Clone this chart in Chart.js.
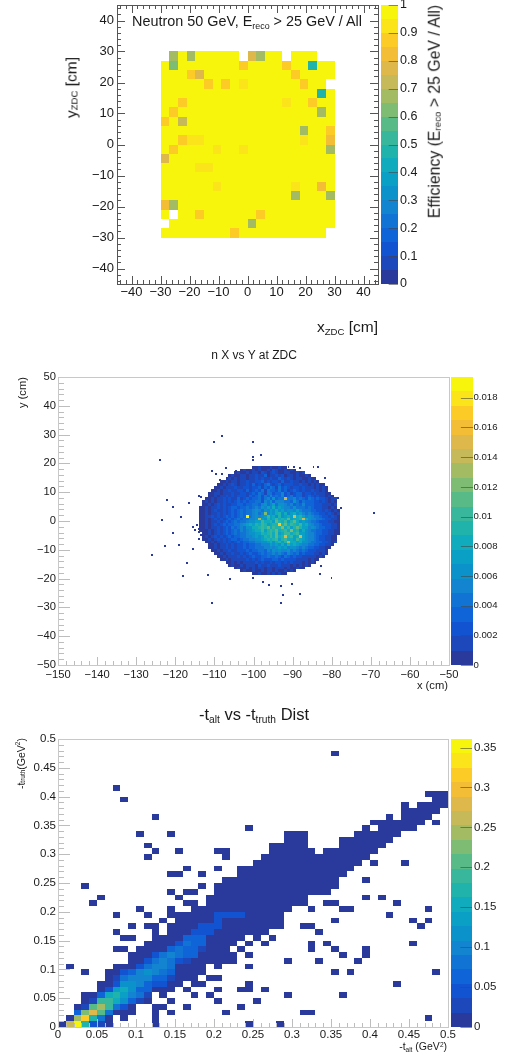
<!DOCTYPE html>
<html>
<head>
<meta charset="utf-8">
<script src="https://cdn.jsdelivr.net/npm/chart.js@4"></script>
<style>
  html, body { margin: 0; background: #fff; }
  body { position: relative; width: 512px; height: 1061px; overflow: hidden; font-family: "Liberation Sans", sans-serif; color: #1a1a1a; }
  canvas { position: absolute; left: 0; }
  .txt { position: absolute; white-space: nowrap; line-height: 1; }
  .vert { writing-mode: vertical-rl; transform: rotate(180deg); }
  sub, sup { font-size: 62%; line-height: 0; }
  sub { vertical-align: -0.3em; }
  sup { vertical-align: 0.5em; }
</style>
</head>
<body>
<canvas id="effChart" width="512" height="340" style="top:0"></canvas>
<canvas id="posChart" width="512" height="360" style="top:340px"></canvas>
<canvas id="altChart" width="512" height="361" style="top:700px"></canvas>

<div class="txt" style="left:132px;top:14px;font-size:14.4px">Neutron 50 GeV, E<sub>reco</sub> &gt; 25 GeV / All</div>
<div class="txt vert" style="left:64px;top:57px;font-size:15.5px">y<sub>ZDC</sub> [cm]</div>
<div class="txt" style="right:134px;top:319px;font-size:15.5px">x<sub>ZDC</sub> [cm]</div>
<div class="txt vert" style="left:427px;top:5px;font-size:15.8px">Efficiency (E<sub>reco</sub> &gt; 25 GeV / All)</div>

<div class="txt" style="left:0;width:508px;text-align:center;top:349px;font-size:12px">n X vs Y at ZDC</div>
<div class="txt vert" style="left:17px;top:377px;font-size:11.2px">y (cm)</div>
<div class="txt" style="right:64px;top:680px;font-size:11.2px">x (cm)</div>

<div class="txt" style="left:0;width:508px;text-align:center;top:706px;font-size:16.5px">-t<sub>alt</sub> vs -t<sub>truth</sub> Dist</div>
<div class="txt vert" style="left:16px;top:738px;font-size:10.5px">-t<sub>truth</sub>(GeV<sup>2</sup>)</div>
<div class="txt" style="right:65px;top:1041px;font-size:10.5px">-t<sub>alt</sub> (GeV<sup>2</sup>)</div>

<script>
Chart.defaults.font.family = '"Liberation Sans", sans-serif';
Chart.defaults.color = '#1a1a1a';

// 20 contour colours (bottom to top)
const PALETTE = ['#2a3a9c','#1d48bb','#1253d2','#0f64d8','#1174d4','#1384cf','#0c92ca','#0aa0c6','#10abbc','#20b3ac',
                 '#38b79c','#58ba86','#7dbc72','#a3bc64','#c6b95a','#dfb84c','#f3bd36','#fdcb25','#fbe41a','#f8f50c'];

// Cell strings: one char per bin, base-20 contour level (0-j), '.' or ' ' = empty.

// ---- Efficiency map, 3 cm bins, first row is y 27..30 ----
const effRows = [
  '.djdjjjjj.fdjj.jjj..',
  'jcjjjjjjjhjjjjhjj9jj',
  'jjjhfjjjjjjjjjjhjjjj',
  'jjjjjhjhjijjjjjjhjj.',
  'jjjjjjjjjjjjjjjjjj9j',
  'jjhjjjjjjjjjjjijjhjj',
  'jhjjjjjjjjjjjjjjjjdj',
  'hjejjjjjjjjjjjjjjjjj',
  'jjjjjjjjjjjjjjjjdjjh',
  'jjhiijjjjjjjjjjjijjg',
  'jhjjjjijjijjjjjjjjjd',
  'fjjjjjjjjjjjjjjjjjjj',
  'jjjjiijjjjjjjjjjjjjj',
  'jjjjjjjjjjjjjjjjjjjj',
  'jjjjjjijjjjjjjjijjgj',
  'jjjjjjjjjjjjjjjdjjjd',
  'gdjjjjjjjjjjjjjjjjjj',
  'j.jjhjjjjjjhjjjjjjjj',
  '.jjjjjjjjjdjjjjjjjjj',
  'jjjjjjjjhjjjjjjjjjj.'
];
const effTicks = [-40, -30, -20, -10, 0, 10, 20, 30, 40];

// ---- Neutron position at ZDC, core of the spot, then the stray hits ----
const posRows = [
  '                  001000100100',
  '              0100101001021001010',
  '            010010110210121001100101',
  '          0100110112113011212011010010',
  '         0101011011212112113212101100100',
  '       0010110112112231212213112110101010',
  '      0010121011213121342123122211211010100',
  '     001011121122122313243142321221211101010',
  '    0010112112213123241433242312321211211010',
  '   001101112112212324314423352312331221211100',
  '   0010112121222132342435343523423312321211010',
  '  001011212113123233424536344e44534324323221011',
  ' 0101011212123232334425463555443642433322121010',
  ' 0010121211223323344356457466545343533322211101',
  '00101121212332334345465758576554644434322211010',
  '001012112123234344565465768675665754443322121010',
  '0010112121232343445645c5768968578675454332212101',
  '0011212123232343j456567a78696787f897565443221210',
  '00101212123234344556d76978a898b7889e865544322110',
  '001011212323434456677a8897b98a79b867654432221100',
  '001012123233445678798a97899h9b8a98a7865443222110',
  '001011212324345466889a9b8a99c8a79b97756543322110',
  '000101212323435456788a79a9b89a8c8968654433221100',
  ' 00101212323434456677989a8b78aa89a77655433221100',
  ' 01012121232334455676798a8b89f9a78e765543221100',
  ' 0010121212332344556678989a79a887a8765543221100',
  '  0010112121232334455667868979d8878665443322101',
  '   0010112121223233445557676869787655443322110',
  '   001011212122323344455656767566545433221100',
  '    0010112112223233443546565564543432221110',
  '     001011211212322343445454354342322211010',
  '      0010111212123223343343243232211111010',
  '       0010111112121232223323222211110100',
  '         0010101111212112122121211101010',
  '          0100101110211211121110101010',
  '            010010101101101110100100',
  '              0100100101101001010',
  '                  001001010100'
];
const strayX = [-108.3,-110.3,-100.3,-100.3,-98.3,-100.3,-124.2,-110.8,-109.8,-108.3,-107.3,-104.8,-108.8,-114.1,-113.7,-122.3,-116.8,-120.8,-113.6,-118.7,-123.7,-114.7,-115.7,-115.2,-114.2,-114.2,-120.8,-113.7,-114.2,-119.2,-122.8,-115.7,-126.2,-117.3,-118.3,-111.8,-106.3,-100.3,-97.8,-96.3,-93.3,-90.3,-92.8,-88.3,-110.8,-93.3,-83.3,-80.3,-82.9,-69.4,-81.9,-83.8,-84.9,-88.4,-89.9,-91.3,-92.8,-97.3,-77.9,-78.7];
const strayY = [29.75,27.8,27.8,22.7,23.3,21.6,21.6,17.7,16.8,16.8,18.8,17.7,14.7,9.0,8.7,7.6,6.7,5.2,3.7,1.7,0.7,-1.0,-1.7,-2.8,-2.4,-3.5,-3.8,-4.5,-5.9,-7.9,-8.3,-9.4,-11.5,-14.4,-18.9,-18.4,-19.9,-19.3,-20.8,-21.9,-22.3,-21.4,-25.3,-24.9,-28,-28,-17.9,-19.3,-15.4,3.1,15.3,19.2,19.2,18.8,19.2,19.2,19.2,19.2,4.7,8.2];

// ---- -t alt vs truth, 0.01 bins. Runs of lowest-level bins per row (first,last,...), row 0 is top ----
const altRuns = [
  [], [], [35,35], [], [], [], [], [],
  [7,7],
  [47,49],
  [8,8,48,49],
  [44,44,46,49],
  [44,48],
  [12,12,42,42,44,47],
  [40,46,48,48],
  [24,24,39,39,41,45],
  [10,10,14,14,29,31,38,43],
  [29,31,36,42],
  [11,11,27,31,36,41],
  [12,12,15,15,20,21,27,32,34,40],
  [11,11,21,21,26,39],
  [25,38,40,40,44,44],
  [16,16,20,20,23,37],
  [14,15,18,18,23,36],
  [21,35,39,39],
  [3,3,18,18,20,35],
  [14,14,16,17,20,34],
  [5,5,15,15,19,31,39,39,41,41],
  [4,4,16,17,19,31,34,35,43,43],
  [10,10,14,14,17,29,32,32,36,37,47,47],
  [7,7,11,11,14,28,42,42],
  [13,13,15,28,35,35,45,45,47,47],
  [9,9,11,12,14,28,31,32,46,46],
  [7,7,12,12,14,26,33,33],
  [8,9,12,23,25,25,27,27],
  [11,22,24,24,26,26,32,32,34,34,45,45],
  [7,8,10,21,23,23,32,32,35,35,39,39],
  [9,22,24,24,36,36,39,39],
  [9,22,29,29,33,33,38,38],
  [1,1,7,18,20,20,24,24],
  [3,3,6,18,35,35,37,37,48,48],
  [6,17,19,20],
  [5,15,17,18,24,24,43,43],
  [5,14,16,16,20,20,23,24,26,26],
  [3,11,13,13,17,17,19,19,29,29,36,36],
  [3,11,14,14,20,20,25,25],
  [2,9,12,13,16,16,23,23],
  [2,9,12,12,14,14,21,21,31,32],
  [1,6,8,8,12,12,47,47],
  [0,6,12,12,24,24,28,28]
];
// brighter ridge on top of those runs: [row, first bin, levels]
const altRidge = [
  [30,20,'2222'], [31,20,'2'], [32,18,'222'], [33,17,'222'], [34,16,'333'],
  [35,15,'2433'], [36,14,'34331'], [37,12,'245433'], [38,11,'245421'], [39,10,'24554'],
  [40,8,'2356543'], [41,7,'14555331'], [42,7,'2665322'], [43,6,'278633'], [44,5,'3897541'],
  [45,4,'1aa8631'], [46,3,'1bda42'], [47,2,'3cfb4'], [48,2,'dh94'], [49,1,'ej921']
];

// ---------- Utilities ----------
function rowsToCells(rows, x0, yTop, binW, binH, zMax) {
  const cells = [];
  rows.forEach((row, r) => {
    [...row].forEach((ch, c) => {
      if (ch === '.' || ch === ' ') return;
      cells.push({ x: x0 + c * binW, y: yTop - r * binH, v: (parseInt(ch, 20) + 0.5) / 20 * zMax });
    });
  });
  return cells;
}

function altRowStrings() {
  const rows = altRuns.map(runs => {
    const row = new Array(50).fill('.');
    for (let i = 0; i < runs.length; i += 2) {
      for (let c = runs[i]; c <= runs[i + 1]; c++) row[c] = '0';
    }
    return row;
  });
  altRidge.forEach(([r, first, levels]) => {
    [...levels].forEach((ch, i) => { rows[r][first + i] = ch; });
  });
  return rows.map(r => r.join(''));
}

const signed = v => String(v).replace('-', '\u2212');

// y of a cell is its upper edge, x its left edge
const heatPlugin = {
  id: 'heat',
  beforeDatasetsDraw(chart) {
    const { ctx, scales: { x, y, z } } = chart;
    const o = chart.options.plugins.heat;
    chart.data.datasets.forEach(ds => {
      ds.data.forEach(p => {
        const left = Math.round(x.getPixelForValue(p.x));
        const right = Math.round(x.getPixelForValue(p.x + ds.binW));
        const top = Math.round(y.getPixelForValue(p.y));
        const bottom = Math.round(y.getPixelForValue(p.y - ds.binH));
        ctx.fillStyle = PALETTE[Math.min(19, Math.floor(p.v / o.zMax * 20))];
        ctx.fillRect(left, top, right - left, bottom - top);
      });
    });
    // palette bar
    PALETTE.forEach((col, i) => {
      const top = Math.round(z.getPixelForValue((i + 1) / 20 * o.zMax));
      const bottom = Math.round(z.getPixelForValue(i / 20 * o.zMax));
      ctx.fillStyle = col;
      ctx.fillRect(o.barLeft, top, o.barWidth, bottom - top);
    });
  },
  afterDatasetsDraw(chart) {
    const { ctx, chartArea: a, scales: { x, y, z } } = chart;
    const o = chart.options.plugins.heat;
    ctx.save();
    ctx.lineWidth = 1;

    const each = (scale, minor, major, fn) => {
      for (let i = Math.ceil(scale.min / minor - 1e-6); i * minor <= scale.max + 1e-9; i++) {
        const v = i * minor;
        const isMajor = Math.abs(v / major - Math.round(v / major)) < 1e-6;
        fn(Math.round(scale.getPixelForValue(v)) + 0.5, isMajor);
      }
    };
    ctx.strokeStyle = o.tickColor;
    ctx.beginPath();
    each(x, o.xMinor, o.xMajor, (px, big) => {
      const len = big ? o.xLen : o.xLen / 2;
      ctx.moveTo(px, a.bottom); ctx.lineTo(px, a.bottom - len);
      if (o.mirror) { ctx.moveTo(px, a.top); ctx.lineTo(px, a.top + len); }
    });
    each(y, o.yMinor, o.yMajor, (px, big) => {
      const len = big ? o.yLen : o.yLen / 2;
      ctx.moveTo(a.left, px); ctx.lineTo(a.left + len, px);
      if (o.mirror) { ctx.moveTo(a.right, px); ctx.lineTo(a.right - len, px); }
    });
    ctx.stroke();

    ctx.strokeStyle = o.frameColor;
    ctx.strokeRect(a.left + 0.5, a.top + 0.5, a.right - a.left, a.bottom - a.top);

    // palette ticks
    ctx.strokeStyle = 'rgba(70,70,70,0.6)';
    ctx.beginPath();
    z.ticks.forEach(t => {
      const py = Math.round(z.getPixelForValue(t.value)) + 0.5;
      ctx.moveTo(o.barLeft + o.barWidth, py);
      ctx.lineTo(o.barLeft + o.barWidth - o.barWidth * 0.55, py);
    });
    ctx.stroke();
    ctx.restore();
  }
};

// no padding for first/last labels, the frame sizes below are exact
function fixedSize(prop, size) {
  return s => {
    s[prop] = size;
    s.paddingTop = s.paddingBottom = s.paddingLeft = s.paddingRight = 0;
  };
}

function renderHeat(id, o) {
  const useTicks = s => {
    if (o.tickValues) s.ticks = o.tickValues.map(value => ({ value }));
  };
  return new Chart(document.getElementById(id), {
    type: 'scatter',
    data: { datasets: o.datasets },
    options: {
      responsive: false,
      animation: false,
      events: [],
      elements: { point: { radius: 0 } },
      layout: { padding: { top: o.top, bottom: o.bottom, left: 0, right: 0 } },
      plugins: {
        legend: { display: false },
        tooltip: { enabled: false },
        heat: o.heat
      },
      scales: {
        x: {
          type: 'linear', min: o.xMin, max: o.xMax,
          grid: { display: false, drawTicks: false }, border: { display: false },
          afterBuildTicks: useTicks,
          afterFit: fixedSize('height', o.xHeight),
          ticks: { stepSize: o.heat.xMajor, padding: o.xPad, autoSkip: false, maxRotation: 0, includeBounds: false,
                   font: { size: o.fontSize }, callback: o.xFmt }
        },
        y: {
          type: 'linear', min: o.yMin, max: o.yMax,
          grid: { display: false, drawTicks: false }, border: { display: false },
          afterBuildTicks: useTicks,
          afterFit: fixedSize('width', o.left),
          ticks: { stepSize: o.heat.yMajor, padding: o.yPad, autoSkip: false, includeBounds: false,
                   font: { size: o.fontSize }, callback: o.yFmt }
        },
        z: {
          axis: 'y', type: 'linear', position: 'right', min: 0, max: o.heat.zMax,
          grid: { display: false, drawTicks: false }, border: { display: false },
          afterFit: fixedSize('width', o.right),
          ticks: { stepSize: o.zStep, padding: o.zPad, autoSkip: false, includeBounds: false,
                   font: { size: o.zFont }, callback: o.zFmt }
        }
      }
    },
    plugins: [heatPlugin]
  });
}

// ---------- The three panels ----------
renderHeat('effChart', {
  datasets: [{ data: rowsToCells(effRows, -30, 30, 3, 3, 1), binW: 3, binH: 3 }],
  top: 5, bottom: 26, left: 117, right: 134, xHeight: 30,
  xMin: -45, xMax: 45, yMin: -45, yMax: 45, tickValues: effTicks,
  fontSize: 13, zFont: 12.5, xPad: 1, yPad: 3, zPad: 22, zStep: 0.1,
  xFmt: signed, yFmt: signed, zFmt: v => String(+v.toFixed(1)),
  heat: { zMax: 1, barLeft: 381, barWidth: 17, frameColor: '#555', tickColor: '#555', mirror: true,
          xMajor: 10, xMinor: 2, yMajor: 10, yMinor: 2, xLen: 8, yLen: 8 }
});

renderHeat('posChart', {
  datasets: [
    { data: rowsToCells(posRows, -113.9, 19.2, 0.75, 1, 0.0194), binW: 0.75, binH: 1 },
    { data: strayX.map((x, i) => ({ x, y: strayY[i], v: 0.0001 })), binW: 0.5, binH: 0.7 }
  ],
  top: 37, bottom: 15, left: 58, right: 63, xHeight: 20,
  xMin: -150, xMax: -50, yMin: -50, yMax: 50,
  fontSize: 11.2, zFont: 9.6, xPad: 3, yPad: 2, zPad: 24.5, zStep: 0.002,
  xFmt: signed, yFmt: signed, zFmt: v => String(+v.toFixed(3)),
  heat: { zMax: 0.0194, barLeft: 451, barWidth: 22, frameColor: '#c8c8c8', tickColor: '#bdbdbd', mirror: false,
          xMajor: 10, xMinor: 2, yMajor: 10, yMinor: 2, xLen: 8, yLen: 12 }
});

renderHeat('altChart', {
  datasets: [{ data: rowsToCells(altRowStrings(), 0, 0.5, 0.01, 0.01, 0.3607), binW: 0.01, binH: 0.01 }],
  top: 39, bottom: 14, left: 58, right: 64, xHeight: 20,
  xMin: 0, xMax: 0.5, yMin: 0, yMax: 0.5,
  fontSize: 11.5, zFont: 11.5, xPad: 1, yPad: 2, zPad: 26, zStep: 0.05,
  xFmt: v => String(+v.toFixed(2)), yFmt: v => String(+v.toFixed(2)), zFmt: v => String(+v.toFixed(2)),
  heat: { zMax: 0.3607, barLeft: 451, barWidth: 21, frameColor: '#c8c8c8', tickColor: '#bdbdbd', mirror: false,
          xMajor: 0.05, xMinor: 0.01, yMajor: 0.05, yMinor: 0.01, xLen: 8, yLen: 12 }
});
</script>
</body>
</html>
